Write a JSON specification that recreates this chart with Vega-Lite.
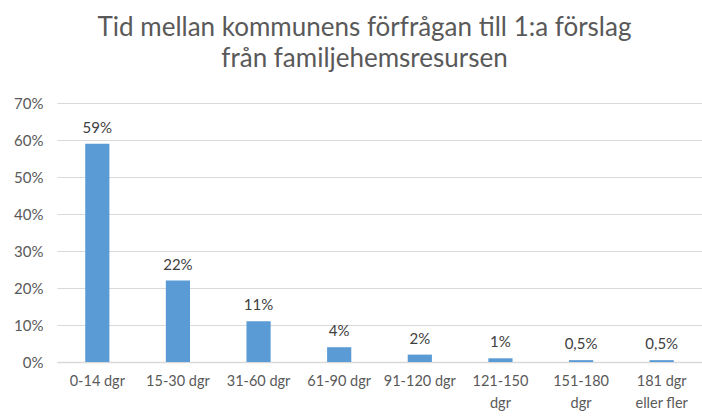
{
  "$schema": "https://vega.github.io/schema/vega-lite/v6.json",
  "autosize": "none",
  "padding": {"left": 57, "top": 103, "right": 0, "bottom": 54},
  "width": 645,
  "height": 259,
  "background": "white",
  "title": {
    "text": ["Tid mellan kommunens förfrågan till 1:a förslag", "från familjehemsresursen"],
    "font": "Lato",
    "fontSize": 26,
    "fontWeight": "normal",
    "color": "#595959",
    "anchor": "middle",
    "dx": -15,
    "offset": 24,
    "lineHeight": 31
  },
  "data": {
    "values": [
      {"kategori": "0-14 dgr", "andel": 0.59},
      {"kategori": "15-30 dgr", "andel": 0.22},
      {"kategori": "31-60 dgr", "andel": 0.11},
      {"kategori": "61-90 dgr", "andel": 0.04},
      {"kategori": "91-120 dgr", "andel": 0.02},
      {"kategori": "121-150 dgr", "andel": 0.01},
      {"kategori": "151-180 dgr", "andel": 0.005},
      {"kategori": "181 dgr eller fler", "andel": 0.005}
    ]
  },
  "encoding": {
    "x": {
      "field": "kategori",
      "type": "nominal",
      "sort": null,
      "title": null,
      "scale": {"paddingInner": 0.7, "paddingOuter": 0.35},
      "axis": {
        "labelAngle": 0,
        "labelFont": "Lato",
        "labelFontSize": 14.5,
        "labelColor": "#595959",
        "labelPadding": 12,
        "labelLineHeight": 22,
        "ticks": false,
        "domainColor": "#d9d9d9",
        "domainWidth": 1.5,
        "labelExpr": "datum.label == '121-150 dgr' ? ['121-150', 'dgr'] : datum.label == '151-180 dgr' ? ['151-180', 'dgr'] : datum.label == '181 dgr eller fler' ? ['181 dgr', 'eller fler'] : datum.label"
      }
    },
    "y": {
      "field": "andel",
      "type": "quantitative",
      "title": null,
      "scale": {"domain": [0, 0.7], "nice": false},
      "axis": {
        "format": ".0%",
        "values": [0, 0.1, 0.2, 0.3, 0.4, 0.5, 0.6, 0.7],
        "labelOverlap": false,
        "domain": false,
        "ticks": false,
        "gridColor": "#d9d9d9",
        "gridWidth": 1,
        "labelFont": "Lato",
        "labelFontSize": 15,
        "labelColor": "#595959",
        "labelPadding": 14
      }
    }
  },
  "layer": [
    {"mark": {"type": "bar", "color": "#5B9BD5"}},
    {
      "mark": {"type": "text", "baseline": "bottom", "dy": -8, "font": "Lato", "fontSize": 15, "color": "#404040"},
      "encoding": {"text": {"field": "andel", "type": "quantitative", "format": ".1~%"}}
    }
  ],
  "config": {
    "view": {"stroke": null},
    "locale": {
      "number": {"decimal": ",", "thousands": " ", "grouping": [3], "currency": ["", " kr"]}
    }
  }
}
